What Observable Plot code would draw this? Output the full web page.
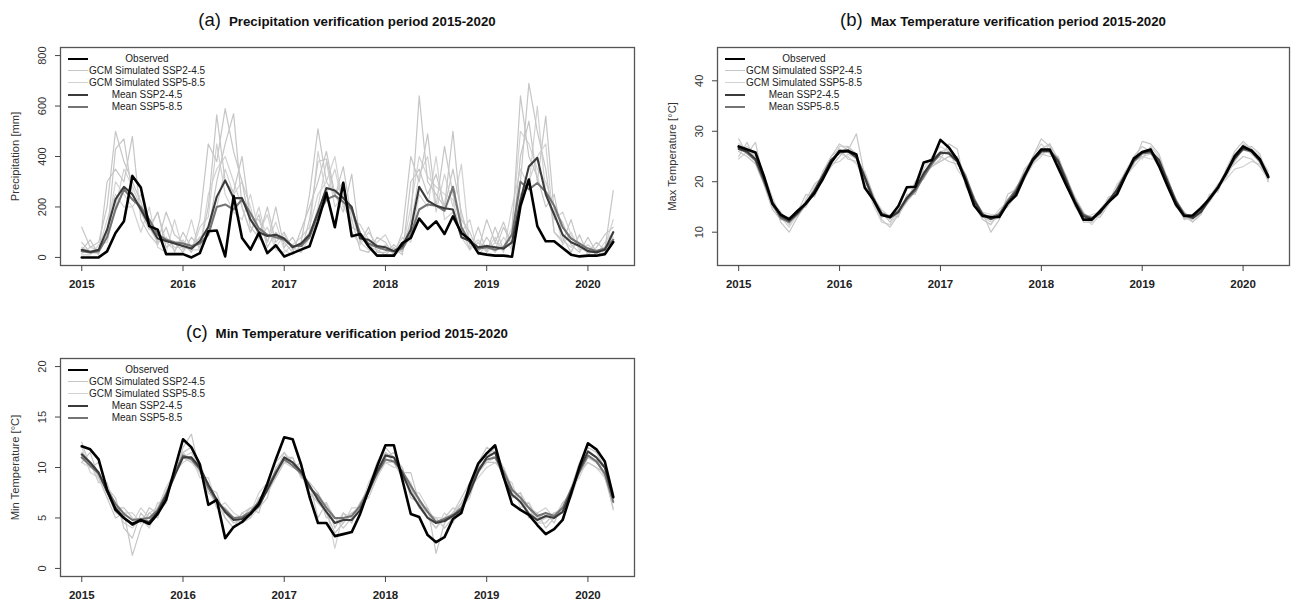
<!DOCTYPE html>
<html><head><meta charset="utf-8">
<script src="https://cdn.jsdelivr.net/npm/d3@7"></script>
<script src="https://cdn.jsdelivr.net/npm/@observablehq/plot@0.6"></script>
<style>
body{margin:0;background:#fff;font-family:"Liberation Sans",Arial,sans-serif;}
#wrap{position:relative;width:1291px;height:604px;overflow:hidden;background:#fff;}
.panel{position:absolute;}
.title{position:absolute;white-space:nowrap;transform:translate(-50%,-50%);color:#111;line-height:1;}
.title .tag{font-size:18.5px;font-weight:normal;}
.title .txt{font-size:13.3px;font-weight:bold;margin-left:8px;}
.legend{position:absolute;width:200px;height:70px;font-size:10px;color:#222;}
.lrow{position:absolute;left:0;width:200px;height:12px;}
.lline{position:absolute;left:8px;width:20px;top:6px;}
.ltxt{position:absolute;left:87px;top:0;transform:translateX(-50%);white-space:nowrap;line-height:12px;}
</style></head>
<body><div id="wrap"></div>
<script>
// ---------- axis ticks ----------
const years = [2015, 2016, 2017, 2018, 2019, 2020];
const precipTicks = [0, 200, 400, 600, 800];
const tmaxTicks = [10, 20, 30, 40];
const tminTicks = [0, 5, 10, 15, 20];
const startYear = 2015; // monthly values Jan 2015 .. Apr 2020

// ---------- (a) Precipitation [mm] ----------
const precipObserved = [0,0,0,24,97,143,323,277,124,110,13,13,
 13,0,17,104,107,4,243,77,31,97,17,48,
 4,17,31,44,143,256,120,296,84,93,44,7,
 7,7,57,77,154,113,143,93,163,97,70,17,
 11,7,7,3,203,309,124,64,64,37,11,4,
 7,7,13,61];
const precipMean245 = [30,22,30,110,230,280,250,190,130,75,65,55,
 45,35,65,120,240,305,235,235,150,100,85,90,
 75,40,55,90,180,275,265,235,200,75,70,45,
 40,25,45,110,280,225,205,195,190,80,65,40,
 45,40,35,60,225,360,395,250,170,90,60,45,
 25,20,30,100];
const precipMean585 = [25,20,25,80,190,270,230,200,150,90,70,60,
 55,45,55,90,200,210,190,230,175,115,90,80,
 70,45,45,80,170,230,245,220,190,95,55,40,
 30,25,35,90,190,210,205,185,280,120,60,35,
 40,30,40,90,300,270,295,260,205,120,75,55,
 35,25,35,70];
const precipGcm1 = [120,40,60,200,500,380,300,220,120,60,180,90,
 60,20,150,450,380,590,420,300,120,80,200,60,
 100,30,60,250,510,300,250,180,330,60,120,20,
 20,50,20,150,640,300,250,200,350,180,60,30,
 150,60,140,40,300,690,500,350,100,60,150,40,
 20,60,30,265];
const precipGcm2 = [60,20,20,80,430,470,250,180,110,180,40,60,
 20,80,40,200,565,300,260,400,150,150,60,200,
 40,80,20,150,380,390,240,360,150,30,20,80,
 60,10,100,400,300,490,200,440,250,120,30,120,
 20,120,30,100,640,400,320,200,250,80,20,90,
 10,40,90,120];
const precipGcm3 = [30,70,10,300,350,300,480,150,90,50,120,20,
 100,40,80,100,300,450,570,200,100,170,40,100,
 60,20,110,200,300,420,250,300,120,100,40,30,
 10,40,10,300,350,250,330,200,500,150,100,20,
 80,30,120,50,400,540,300,560,180,140,50,20,
 80,20,10,60];
const precipGcm4 = [15,40,30,150,250,200,200,100,200,40,20,150,
 30,150,20,120,200,350,250,300,200,70,120,30,
 20,50,80,120,250,300,400,200,150,130,70,60,
 90,20,60,120,330,400,180,330,200,370,40,70,
 30,80,20,200,350,280,600,250,150,180,90,30,
 40,10,60,100];
const precipGcm5 = [10,10,50,60,200,350,280,200,120,180,60,30,
 70,20,120,160,450,250,180,150,250,100,170,40,
 90,40,20,80,200,380,200,250,100,50,100,50,
 30,20,80,60,250,200,400,150,180,100,150,10,
 50,20,80,30,250,300,400,450,100,70,40,60,
 20,30,20,80];
const precipGcm6 = [40,20,15,100,300,250,200,250,150,60,80,40,
 40,30,30,250,350,400,300,200,100,200,60,140,
 30,10,50,100,420,250,350,200,180,60,30,20,
 50,10,30,200,400,320,280,250,230,80,30,60,
 20,60,40,120,500,450,350,300,200,50,100,30,
 50,20,40,150];

// ---------- (b) Max Temperature [°C] ----------
const tmaxObserved = [27.0,26.4,25.8,21.1,15.7,13.5,12.6,14.2,15.7,17.7,20.5,23.8,
 26.1,26.1,25.4,18.8,16.5,13.4,13.0,15.2,18.9,19.0,23.8,24.3,
 28.3,26.8,24.4,20.1,15.3,13.2,13.0,13.0,15.7,17.3,21.1,24.4,
 26.4,26.4,22.8,19.2,15.8,12.5,12.5,14.2,16.0,17.5,21.1,24.6,
 25.9,26.4,23.1,19.2,15.5,13.2,13.3,14.8,16.6,18.8,21.7,25.1,
 27.0,26.1,24.4,20.9];
const tmaxMean245 = [26.5,26.0,24.5,20.5,16.0,13.2,12.3,13.8,15.8,18.2,21.2,24.3,
 25.8,26.0,24.8,20.8,16.5,13.5,12.9,14.0,16.8,18.6,21.6,24.0,
 25.8,25.6,24.0,20.5,16.2,13.5,12.6,13.3,15.8,18.0,21.2,24.2,
 26.0,26.1,24.0,20.0,16.0,13.2,12.6,13.8,16.2,18.4,21.5,24.3,
 25.8,26.1,24.3,20.0,16.0,13.3,12.8,14.0,16.5,18.8,21.8,24.6,
 26.6,26.3,24.5,21.2];
const tmaxMean585 = [26.8,25.7,24.2,20.0,15.6,12.8,12.0,13.6,15.6,18.0,21.0,24.0,
 26.0,26.3,25.0,21.0,16.8,13.8,13.0,14.2,16.5,18.2,21.0,23.6,
 25.6,25.8,24.4,21.0,16.6,13.6,12.8,13.6,16.2,18.4,21.6,24.6,
 26.2,26.2,24.3,20.3,16.3,13.5,12.8,14.0,16.0,18.2,21.2,24.0,
 25.6,25.8,24.0,20.2,16.3,13.6,13.0,14.3,16.8,19.0,22.0,24.8,
 26.4,26.0,24.0,21.0];
const tmaxGcm1 = [28.5,25.5,27.8,20.0,16.5,12.0,10.0,13.0,16.5,19.5,21.0,25.0,
 27.5,26.2,29.5,21.0,16.0,12.5,11.0,13.5,16.0,20.0,22.0,23.0,
 24.5,27.5,26.5,19.0,16.5,14.0,10.0,12.5,17.5,18.5,21.5,25.0,
 28.5,27.0,23.5,19.5,16.5,12.0,12.0,14.5,16.5,18.0,21.0,23.5,
 28.0,27.5,25.5,20.5,15.5,12.5,13.5,14.0,16.0,18.5,22.5,26.0,
 28.0,26.5,24.5,21.5];
const tmaxGcm2 = [25.0,27.8,24.0,21.0,15.0,13.5,11.5,14.0,17.5,17.0,20.5,23.0,
 25.0,27.0,25.5,20.0,17.0,14.0,12.0,14.5,17.0,19.0,21.0,24.0,
 25.0,24.0,23.5,21.5,15.5,12.5,11.5,14.0,15.0,17.5,20.5,23.5,
 26.5,27.5,24.5,21.0,15.5,13.0,13.0,13.0,15.5,19.0,22.0,25.0,
 27.0,26.0,24.0,19.0,16.5,13.0,12.5,14.5,17.0,19.5,21.0,24.0,
 26.5,27.0,25.5,20.0];
const tmaxGcm3 = [26.0,25.0,23.5,19.5,14.5,12.5,12.5,14.5,15.0,18.0,22.0,25.0,
 26.5,24.5,24.0,22.0,17.5,13.0,13.5,13.0,17.5,17.5,21.5,23.0,
 24.0,25.0,25.0,20.5,17.0,13.0,12.5,13.0,16.5,18.5,22.5,24.5,
 25.5,25.0,25.0,20.5,17.0,14.0,12.0,14.0,17.0,17.5,21.5,24.0,
 25.0,25.5,23.0,21.0,16.0,14.0,12.0,13.5,17.5,18.0,22.0,23.5,
 25.0,24.5,23.0,20.5];
const tmaxGcm4 = [27.5,26.5,25.0,21.5,17.0,13.0,11.0,13.5,15.5,18.5,20.0,24.5,
 25.5,25.0,23.5,20.5,15.5,12.0,11.5,14.0,16.0,18.0,22.5,25.0,
 27.0,26.0,22.5,20.0,16.0,13.5,12.5,14.5,16.0,19.0,21.0,23.5,
 25.0,27.5,23.0,19.5,15.0,13.0,11.5,13.5,16.0,19.5,21.5,25.0,
 24.5,27.0,25.0,20.5,16.5,12.5,13.0,15.0,16.0,19.0,21.0,24.5,
 27.5,26.5,25.0,22.0];
const tmaxGcm5 = [24.5,26.0,24.5,20.0,16.0,14.0,12.0,14.0,16.0,17.5,21.5,23.5,
 24.0,25.5,24.5,21.5,17.0,14.5,13.0,13.5,16.5,19.5,20.5,23.5,
 24.0,25.0,24.0,21.0,16.5,14.0,13.5,13.5,15.5,17.5,21.5,24.0,
 25.5,26.0,25.0,20.0,16.0,12.5,13.5,14.0,15.5,18.5,21.0,23.0,
 25.0,24.5,24.5,20.0,15.0,13.5,13.5,14.5,17.0,19.0,20.5,22.5,
 23.0,24.0,23.5,20.5];
const tmaxGcm6 = [26.0,27.0,25.5,20.5,15.5,12.5,13.0,13.0,15.5,19.0,21.0,24.0,
 27.0,27.0,25.0,19.5,16.0,13.5,12.5,15.0,16.5,18.5,21.5,24.5,
 26.0,26.5,24.5,21.0,15.5,13.0,12.0,13.0,16.0,18.0,21.0,25.0,
 27.5,25.5,24.0,21.0,16.5,13.5,12.5,14.5,16.5,18.0,22.0,24.5,
 26.0,26.5,23.5,20.5,16.5,13.0,12.0,14.0,16.5,18.5,22.5,25.5,
 27.0,25.5,24.0,20.0];

// ---------- (c) Min Temperature [°C] ----------
const tminObserved = [12.1,11.8,10.8,7.8,5.8,5.0,4.4,4.8,4.4,5.4,6.8,9.8,
 12.8,12.0,10.3,6.3,6.8,3.0,4.1,4.6,5.4,6.4,8.4,10.8,
 13.0,12.8,10.3,7.1,4.5,4.5,3.2,3.4,3.6,5.4,7.8,10.1,
 12.2,12.2,8.8,5.4,5.1,3.3,2.6,3.1,4.9,5.5,8.3,10.4,
 11.4,12.2,9.1,6.4,5.8,5.3,4.3,3.4,3.9,4.8,7.4,10.1,
 12.4,11.8,10.6,7.1];
const tminMean245 = [11.3,10.5,9.5,7.6,6.0,5.0,4.3,4.8,4.6,5.6,7.2,9.2,
 11.0,11.0,10.0,8.3,6.8,5.6,4.8,4.9,5.4,6.2,7.8,9.4,
 11.0,10.5,9.6,8.2,6.8,5.6,4.5,4.8,4.8,5.8,7.6,9.6,
 11.2,11.0,9.4,7.5,6.2,5.0,4.5,4.7,5.2,5.8,7.6,9.6,
 11.0,11.5,9.0,7.3,6.6,5.4,4.8,5.2,5.0,5.6,7.6,9.8,
 11.6,11.0,10.0,7.0];
const tminMean585 = [11.0,10.2,9.4,7.8,6.4,5.4,4.8,4.9,5.0,5.8,7.4,9.4,
 11.2,10.8,9.8,8.0,6.6,5.8,5.0,5.1,5.6,6.6,8.0,9.6,
 10.8,10.2,9.4,8.0,7.2,6.0,5.0,5.0,5.2,6.2,7.8,9.4,
 10.8,10.6,9.6,8.2,6.8,5.6,4.6,4.9,5.3,6.0,7.8,9.8,
 10.8,11.0,9.6,7.8,7.0,6.0,5.2,5.5,5.2,6.0,7.8,9.6,
 11.2,10.6,9.4,6.6];
const tminGcm1 = [12.5,10.0,10.5,8.0,7.0,4.0,3.0,5.5,4.5,6.5,6.5,10.0,
 11.5,12.0,10.5,8.0,7.5,5.0,4.0,5.5,6.0,5.5,8.5,10.5,
 11.5,10.0,10.5,7.5,6.5,5.5,3.5,4.5,5.5,6.0,8.0,10.5,
 12.0,11.0,10.0,7.0,6.5,5.0,4.0,5.0,6.0,5.5,7.5,10.5,
 12.0,11.5,10.0,8.0,6.5,6.0,4.5,4.5,5.5,5.5,8.0,10.5,
 12.0,11.5,10.0,7.5];
const tminGcm2 = [10.5,11.5,9.0,7.0,5.0,5.5,1.3,4.0,5.5,5.0,7.5,9.0,
 12.0,13.3,9.5,8.5,6.0,6.0,5.0,4.5,5.0,7.0,7.5,9.0,
 10.5,11.0,9.0,8.5,5.0,6.5,4.0,5.5,4.5,6.5,7.0,9.0,
 11.5,10.5,9.0,8.0,6.0,6.0,1.5,4.5,5.5,7.0,8.5,9.5,
 10.5,10.5,9.5,7.0,7.5,5.0,5.5,4.0,5.0,6.5,7.0,9.5,
 10.5,10.0,9.5,5.8];
const tminGcm3 = [11.5,10.5,8.5,8.5,6.0,6.0,5.0,4.5,6.0,5.5,6.5,9.5,
 11.0,10.5,10.5,7.5,7.0,5.5,4.5,5.0,6.0,6.0,7.0,10.0,
 11.0,11.0,9.0,8.5,7.5,5.0,5.0,4.0,5.0,6.5,8.0,9.5,
 11.0,11.5,9.5,9.5,6.5,5.5,5.0,4.0,5.0,6.5,8.0,9.5,
 11.0,12.0,9.5,7.5,6.5,6.5,5.0,5.5,4.5,6.5,7.5,10.0,
 11.5,11.0,9.0,6.5];
const tminGcm4 = [12.0,9.5,9.0,7.0,6.5,4.5,4.0,5.0,4.0,6.0,8.0,9.5,
 10.5,11.0,9.0,9.0,6.5,6.0,5.0,4.5,5.5,7.5,8.5,9.0,
 10.5,10.0,9.5,7.0,7.5,6.0,2.0,5.5,5.0,5.5,7.5,9.0,
 10.5,10.5,9.0,8.0,7.0,5.0,4.0,5.5,4.5,6.0,7.0,10.0,
 10.5,11.0,9.0,8.5,6.0,6.5,4.5,5.0,5.5,5.5,8.0,9.0,
 11.0,10.5,9.5,7.0];
const tminGcm5 = [10.5,10.0,9.5,7.5,5.5,5.0,4.5,6.0,5.0,5.5,7.0,9.0,
 11.5,10.5,9.5,8.0,6.0,6.5,5.5,5.0,6.0,6.5,8.0,9.5,
 10.5,10.5,9.5,8.5,6.5,6.5,5.0,4.5,6.0,6.0,7.5,9.5,
 10.5,10.0,10.0,7.5,7.5,6.0,4.5,5.0,5.5,6.5,8.0,9.0,
 10.0,10.5,10.0,7.0,7.5,6.0,5.5,6.0,5.0,6.0,8.0,9.5,
 10.5,10.0,9.0,6.0];
const tminGcm6 = [11.0,10.5,9.0,8.0,6.5,5.5,5.5,4.5,5.5,6.0,8.0,9.5,
 11.0,11.5,10.0,7.5,6.5,5.0,4.0,5.5,5.0,6.0,8.0,9.5,
 11.5,10.5,10.0,8.0,7.0,5.5,4.5,5.0,5.5,6.0,8.5,10.0,
 11.5,11.0,9.5,8.5,6.0,5.0,5.0,5.0,5.0,6.0,8.0,10.0,
 11.5,11.0,9.0,8.0,7.0,5.5,5.0,5.0,5.5,6.0,7.5,10.0,
 11.0,10.5,10.0,7.0];

const legendLabels = ["Observed", "GCM Simulated SSP2-4.5", "GCM Simulated SSP5-8.5", "Mean SSP2-4.5", "Mean SSP5-8.5"];

// ---------- styles ----------
const C = {obs: "#000000", gcm245: "#c6c6c6", gcm585: "#d2d2d2", m245: "#3a3a3a", m585: "#747474"};
const W = {obs: 2.6, gcm: 1.2, m245: 2.1, m585: 2.1};

const toRows = (vals, s) => vals.map((v, i) => ({t: startYear + i / 12, v, s}));

function makePanel(cfg) {
  const gcm245 = cfg.gcm.slice(0, 3).flatMap((g, k) => toRows(g, "a" + k));
  const gcm585 = cfg.gcm.slice(3).flatMap((g, k) => toRows(g, "b" + k));
  const plot = Plot.plot({
    width: cfg.width, height: cfg.height,
    marginLeft: cfg.ml, marginRight: cfg.mr, marginTop: cfg.mt, marginBottom: cfg.mb,
    style: {fontFamily: "'Liberation Sans', Arial, sans-serif", fontSize: "11px", color: "#222", background: "transparent", overflow: "visible"},
    x: {domain: [2014.79, 2020.46]},
    y: {domain: cfg.ydomain},
    marks: [
      Plot.line(gcm585, {x: "t", y: "v", z: "s", stroke: C.gcm585, strokeWidth: W.gcm}),
      Plot.line(gcm245, {x: "t", y: "v", z: "s", stroke: C.gcm245, strokeWidth: W.gcm}),
      Plot.line(toRows(cfg.m585, "m585"), {x: "t", y: "v", stroke: C.m585, strokeWidth: W.m585}),
      Plot.line(toRows(cfg.m245, "m245"), {x: "t", y: "v", stroke: C.m245, strokeWidth: W.m245}),
      Plot.line(toRows(cfg.obs, "obs"), {x: "t", y: "v", stroke: C.obs, strokeWidth: W.obs}),
      Plot.frame({stroke: "#555", strokeWidth: 1.3}),
      Plot.axisX({ticks: years, tickFormat: d => String(d), tickSize: 6, tickPadding: 8, fontWeight: "bold", fontSize: 11.5, label: null, stroke: "#444"}),
      Plot.axisY({ticks: cfg.yticks, tickSize: 5, tickFormat: () => "", label: null, stroke: "#444"}),
      Plot.text(cfg.yticks, {y: d => d, text: d => String(d), frameAnchor: "left", dx: -18, rotate: -90, textAnchor: "middle", lineAnchor: "middle", fontSize: 11, fill: "#333"}),
      Plot.text([cfg.ylabel], {text: d => d, frameAnchor: "left", dx: -45, rotate: -90, textAnchor: "middle", lineAnchor: "middle", fontSize: 11.2, fill: "#333"})
    ]
  });
  const div = document.createElement("div");
  div.className = "panel";
  div.style.left = cfg.left + "px"; div.style.top = cfg.top + "px";
  div.appendChild(plot);
  wrap.appendChild(div);

  // title
  const t = document.createElement("div");
  t.className = "title";
  t.style.left = (cfg.left + cfg.ml + (cfg.width - cfg.ml - cfg.mr) / 2) + "px";
  t.style.top = cfg.titleY + "px";
  t.innerHTML = `<span class="tag">${cfg.tag}</span><span class="txt">${cfg.title}</span>`;
  wrap.appendChild(t);

  // legend
  const lg = document.createElement("div");
  lg.className = "legend";
  lg.style.left = (cfg.left + cfg.ml) + "px";
  lg.style.top = (cfg.top + cfg.mt + 6) + "px";
  const lstyle = [[C.obs, 2.6], [C.gcm245, 1.4], [C.gcm585, 1.4], [C.m245, 2.1], [C.m585, 2.1]];
  legendLabels.forEach((lab, k) => {
    const r = document.createElement("div");
    r.className = "lrow";
    r.style.top = (k * 12) + "px";
    r.innerHTML = `<div class="lline" style="border-top:${lstyle[k][1]}px solid ${lstyle[k][0]};margin-top:${-lstyle[k][1] / 2}px"></div><div class="ltxt">${lab}</div>`;
    lg.appendChild(r);
  });
  wrap.appendChild(lg);
}

const wrap = document.getElementById("wrap");

makePanel({left: 0, top: 0, width: 645, height: 300, ml: 60, mr: 11, mt: 47, mb: 35,
  ydomain: [-32, 832], yticks: precipTicks, ylabel: "Precipitation [mm]",
  tag: "(a)", title: "Precipitation verification period 2015-2020", titleY: 20,
  obs: precipObserved, m245: precipMean245, m585: precipMean585,
  gcm: [precipGcm1, precipGcm2, precipGcm3, precipGcm4, precipGcm5, precipGcm6]});

makePanel({left: 655, top: 0, width: 636, height: 300, ml: 62, mr: 2, mt: 47, mb: 35,
  ydomain: [3.4, 46.6], yticks: tmaxTicks, ylabel: "Max Temperature [°C]",
  tag: "(b)", title: "Max Temperature verification period 2015-2020", titleY: 20,
  obs: tmaxObserved, m245: tmaxMean245, m585: tmaxMean585,
  gcm: [tmaxGcm1, tmaxGcm2, tmaxGcm3, tmaxGcm4, tmaxGcm5, tmaxGcm6]});

makePanel({left: 0, top: 300, width: 645, height: 304, ml: 60, mr: 11, mt: 58, mb: 28,
  ydomain: [-0.8, 20.8], yticks: tminTicks, ylabel: "Min Temperature [°C]",
  tag: "(c)", title: "Min Temperature verification period 2015-2020", titleY: 332,
  obs: tminObserved, m245: tminMean245, m585: tminMean585,
  gcm: [tminGcm1, tminGcm2, tminGcm3, tminGcm4, tminGcm5, tminGcm6]});
</script></body></html>
